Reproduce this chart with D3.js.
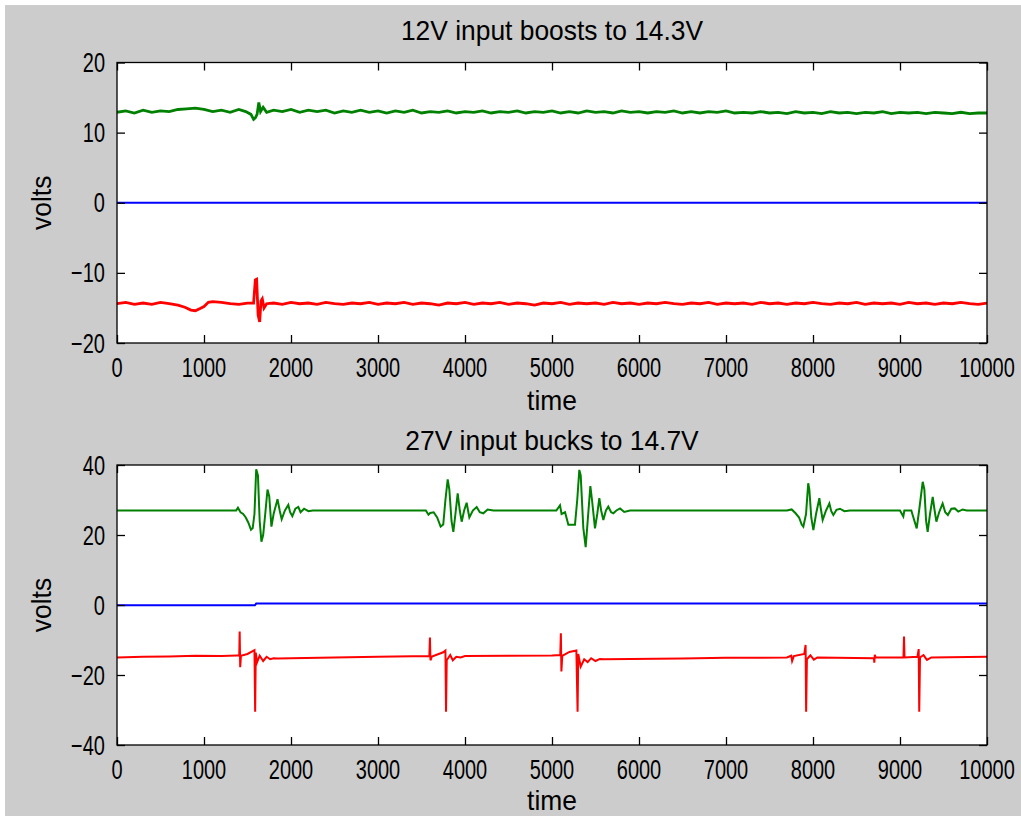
<!DOCTYPE html>
<html>
<head>
<meta charset="utf-8">
<script src="https://cdn.jsdelivr.net/npm/d3@7"></script>
<style>
  html, body { margin: 0; padding: 0; background: #ffffff; }
  svg { display: block; }
  text { font-family: "Liberation Sans", Arial, sans-serif; fill: #000; }
</style>
</head>
<body>
<svg id="chart" width="1021" height="816"></svg>
<script>
// ---------------- DATA ----------------
const xTicks = [0, 1000, 2000, 3000, 4000, 5000, 6000, 7000, 8000, 9000, 10000];
const topYTicks = [-20, -10, 0, 10, 20];
const bottomYTicks = [-40, -20, 0, 20, 40];
const titles = ["12V input boosts to 14.3V", "27V input bucks to 14.7V"];
const xLabel = "time";
const yLabel = "volts";

// Top panel (12V input)
const topGreenT = [0,100,200,300,400,500,600,700,800,900,1000,1100,1200,1300,1400,1480,1540,1570,1590,1610,1630,1650,1680,1720,1800,1900,2000,2100,2200,2300,2400,2500,2600,2700,2800,2900,3000,3100,3200,3300,3400,3500,3600,3700,3800,3900,4000,4100,4200,4300,4400,4500,4600,4700,4800,4900,5000,5100,5200,5300,5400,5500,5600,5700,5800,5900,6000,6100,6200,6300,6400,6500,6600,6700,6800,6900,7000,7100,7200,7300,7400,7500,7600,7700,7800,7900,8000,8100,8200,8300,8400,8500,8600,8700,8800,8900,9000,9100,9200,9300,9400,9500,9600,9700,9800,9900,10000];
const topGreenV = [12.9,13.1,12.8,13.2,12.9,13.1,13.0,13.3,13.4,13.5,13.3,13.0,13.2,12.9,13.3,13.0,12.6,11.9,12.1,12.6,14.3,13.0,13.6,12.9,13.2,13.0,13.3,12.9,13.2,13.0,13.2,12.8,13.1,12.9,13.2,12.9,13.1,12.8,13.1,12.9,13.2,12.8,13.0,12.9,13.1,12.8,13.0,12.9,13.1,12.8,13.0,12.9,13.1,12.8,13.0,12.9,13.1,12.8,13.0,12.8,13.1,12.9,13.0,12.8,13.1,12.9,13.0,12.8,13.0,12.9,13.1,12.8,13.0,12.8,13.0,12.9,13.1,12.8,12.9,12.8,13.0,12.8,12.9,12.7,13.0,12.8,12.9,12.7,13.0,12.8,12.9,12.7,12.9,12.8,13.0,12.7,12.9,12.8,12.9,12.7,12.9,12.8,12.7,12.9,12.7,12.8,12.8];
const topRedT = [0,100,200,300,400,500,600,700,780,850,900,950,1000,1050,1100,1200,1300,1400,1500,1570,1590,1605,1622,1640,1655,1670,1690,1720,1800,1900,2000,2100,2200,2300,2400,2500,2600,2700,2800,2900,3000,3100,3200,3300,3400,3500,3600,3700,3800,3900,4000,4100,4200,4300,4400,4500,4600,4700,4800,4900,5000,5100,5200,5300,5400,5500,5600,5700,5800,5900,6000,6100,6200,6300,6400,6500,6600,6700,6800,6900,7000,7100,7200,7300,7400,7500,7600,7700,7800,7900,8000,8100,8200,8300,8400,8500,8600,8700,8800,8900,9000,9100,9200,9300,9400,9500,9600,9700,9800,9900,10000];
const topRedV = [-14.4,-14.2,-14.5,-14.3,-14.5,-14.2,-14.4,-14.6,-14.9,-15.3,-15.4,-15.1,-14.8,-14.2,-14.1,-14.2,-14.4,-14.5,-14.3,-14.3,-11.0,-10.9,-16.0,-17.0,-14.0,-13.7,-15.0,-14.4,-14.3,-14.5,-14.2,-14.4,-14.3,-14.5,-14.2,-14.4,-14.5,-14.3,-14.4,-14.2,-14.5,-14.3,-14.4,-14.2,-14.5,-14.3,-14.4,-14.6,-14.3,-14.4,-14.2,-14.5,-14.3,-14.4,-14.2,-14.5,-14.3,-14.4,-14.6,-14.3,-14.4,-14.2,-14.5,-14.3,-14.4,-14.3,-14.5,-14.2,-14.4,-14.3,-14.5,-14.3,-14.4,-14.2,-14.4,-14.5,-14.3,-14.4,-14.2,-14.5,-14.3,-14.4,-14.3,-14.5,-14.2,-14.4,-14.3,-14.5,-14.3,-14.4,-14.2,-14.4,-14.5,-14.3,-14.4,-14.2,-14.5,-14.3,-14.4,-14.3,-14.5,-14.2,-14.4,-14.3,-14.5,-14.3,-14.4,-14.2,-14.4,-14.5,-14.3];
const topBlueT = [0, 10000];
const topBlueV = [0, 0];

// Bottom panel (27V input)
const botGreenT = [0,1370,1390,1420,1450,1480,1510,1540,1560,1580,1600,1620,1640,1660,1680,1700,1730,1750,1775,1800,1845,1870,1893,1930,1969,1990,2015,2050,2084,2110,2150,2200,2250,3550,3580,3600,3640,3680,3720,3750,3775,3801,3820,3845,3866,3890,3916,3940,3962,3990,4019,4035,4050,4090,4134,4170,4210,4260,4326,5050,5092,5110,5150,5188,5264,5290,5314,5330,5360,5387,5410,5441,5460,5494,5520,5544,5565,5590,5620,5647,5680,5705,5740,5782,5830,5897,7700,7755,7800,7840,7870,7889,7920,7945,7958,7980,8004,8035,8073,8090,8111,8150,8188,8210,8234,8270,8310,8360,8425,9000,9038,9050,9130,9160,9192,9225,9261,9280,9300,9318,9345,9376,9395,9418,9450,9490,9520,9550,9590,9630,9670,9720,9766,10000];
const botGreenV = [27,27,27.8,26.5,26,25,23.5,21.5,22,26,38.8,37,24,18.1,20,25,33,31,22.4,26,30.2,27,24.5,27,28.6,26.5,25.4,27.5,28,26.5,27.5,26.8,27,27,25.8,26.3,26.5,25,22.4,23,30,35.9,33,24,20.9,26,31.9,27,23.8,27,29.2,27,25.0,27,28,26.5,26.2,27.3,27,27,28.5,26,26.5,22.9,22.9,30,38.6,37,22,16.5,24,34,30,21.9,26,30.5,27,24.3,27,28.1,26.5,26.2,27,27.6,26.6,27,27,27.3,26.2,25,23,22.4,26,34.8,33,25,21.4,26,30.5,27.5,24.3,27,29,26.8,25.7,27.2,27.5,26.8,27,27,25.3,27,27,24.5,21.9,28,35.2,33,24,20.9,26,30.9,27.5,23.8,26.5,29,26.5,25.7,27.5,27.6,26.7,27.3,27,27];
const botRedT = [0,300,600,900,1200,1380,1405,1410,1416,1425,1500,1580,1588,1595,1610,1640,1680,1720,1760,1800,1850,2000,2500,3000,3590,3597,3603,3620,3750,3775,3782,3790,3830,3860,3900,3950,4000,4500,5000,5095,5102,5108,5118,5200,5280,5294,5302,5330,5370,5410,5450,5500,5550,5600,6500,7000,7700,7750,7760,7780,7900,7915,7921,7930,7970,8010,8050,8700,8705,8710,8720,9040,9046,9052,9200,9215,9221,9230,9270,9310,9360,10000];
const botRedV = [-15,-14.8,-14.7,-14.5,-14.6,-14.4,-14.4,-7.6,-17.8,-14.5,-14.0,-12.9,-30.5,-13.6,-16.4,-14.5,-16,-14.8,-15.5,-15.2,-15.3,-15.2,-15.0,-14.8,-14.6,-9.3,-15.8,-14.7,-13.5,-13,-30.5,-15.8,-14.3,-15.8,-14.8,-15,-14.6,-14.5,-14.4,-14.3,-8.1,-19,-14.5,-13.4,-13,-30.5,-14,-17.6,-15.5,-16.3,-15.2,-16,-15.4,-15.5,-15.3,-15.1,-15,-14.5,-16,-14.6,-14,-11.4,-30.5,-15.5,-14.4,-15.6,-15,-15.2,-16.5,-14.2,-15,-15,-9,-15,-14.8,-12.6,-30.5,-15,-14.3,-15.7,-15,-14.8];
const botBlueT = [0, 1585, 1600, 10000];
const botBlueV = [-0.1, -0.1, 0.4, 0.4];

const colors = { green: "#008000", red: "#ff0000", blue: "#0000ff" };

// ---------------- DRAW ----------------
const svg = d3.select("#chart");
svg.append("rect").attr("x", 5).attr("y", 5).attr("width", 1016).attr("height", 811).attr("fill", "#cccccc");

const plotLeft = 117, plotRight = 987;
const panels = [
  { top: 62.5, bottom: 343, yDomain: [-20, 20], yTicks: topYTicks, title: titles[0], titleY: 40, xLabelY: 410,
    series: [[topGreenT, topGreenV, colors.green, 2.8], [topBlueT, topBlueV, colors.blue, 2], [topRedT, topRedV, colors.red, 2.8]] },
  { top: 465, bottom: 745, yDomain: [-40, 40], yTicks: bottomYTicks, title: titles[1], titleY: 450, xLabelY: 810,
    series: [[botGreenT, botGreenV, colors.green, 2], [botBlueT, botBlueV, colors.blue, 2], [botRedT, botRedV, colors.red, 2]] }
];

const fontSize = 20;
const SY = 1.35;     // vertical stretch of the original bitmap font
const SX_DIG = 1.0;  // horizontal scale for numbers
const SX_TXT = 1.32; // horizontal scale for words

function label(parent, x, y, str, anchor, sx, rot) {
  return parent.append("text")
    .attr("transform", `translate(${x},${y})${rot ? ` rotate(${rot})` : ""} scale(${sx},${SY})`)
    .attr("text-anchor", anchor).attr("font-size", fontSize).text(str);
}

panels.forEach(p => {
  const x = d3.scaleLinear().domain([0, 10000]).range([plotLeft, plotRight]);
  const y = d3.scaleLinear().domain(p.yDomain).range([p.bottom, p.top]);
  const g = svg.append("g");
  g.append("rect").attr("x", plotLeft).attr("y", p.top)
    .attr("width", plotRight - plotLeft).attr("height", p.bottom - p.top).attr("fill", "#fff");

  const clipId = "clip" + Math.round(p.top);
  svg.append("clipPath").attr("id", clipId).append("rect")
    .attr("x", plotLeft).attr("y", p.top).attr("width", plotRight - plotLeft).attr("height", p.bottom - p.top);

  p.series.forEach(([ts, vs, col, w]) => {
    const pts = ts.map((t, i) => [t, vs[i]]);
    g.append("path").datum(pts)
      .attr("clip-path", `url(#${clipId})`)
      .attr("fill", "none").attr("stroke", col).attr("stroke-width", w)
      .attr("stroke-linejoin", "miter")
      .attr("d", d3.line().x(d => x(d[0])).y(d => y(d[1])));
  });

  const tickLen = 8;
  const ax = g.append("g").attr("transform", `translate(0,${p.bottom})`)
    .call(d3.axisBottom(x).tickValues(xTicks).tickFormat("").tickSizeInner(-tickLen).tickSizeOuter(0));
  const axT = g.append("g").attr("transform", `translate(0,${p.top})`)
    .call(d3.axisTop(x).tickValues(xTicks).tickFormat("").tickSizeInner(-tickLen).tickSizeOuter(0));
  const ay = g.append("g").attr("transform", `translate(${plotLeft},0)`)
    .call(d3.axisLeft(y).tickValues(p.yTicks).tickFormat("").tickSizeInner(-tickLen).tickSizeOuter(0));
  const ayR = g.append("g").attr("transform", `translate(${plotRight},0)`)
    .call(d3.axisRight(y).tickValues(p.yTicks).tickFormat("").tickSizeInner(-tickLen).tickSizeOuter(0));
  [ax, axT, ay, ayR].forEach(a => {
    a.select(".domain").remove();
    a.selectAll("line").attr("stroke", "#000").attr("stroke-width", 1.3);
  });

  // tick labels (stretched like the original bitmap font)
  xTicks.forEach(t => label(g, x(t), p.bottom + 34, d3.format("d")(t), "middle", SX_DIG));
  p.yTicks.forEach(v => label(g, 105, y(v) + 9.5, d3.format("d")(v), "end", SX_DIG));

  // box
  g.append("rect").attr("x", plotLeft).attr("y", p.top)
    .attr("width", plotRight - plotLeft).attr("height", p.bottom - p.top)
    .attr("fill", "none").attr("stroke", "#000").attr("stroke-width", 1.3);

  label(g, (plotLeft + plotRight) / 2, p.titleY, p.title, "middle", SX_TXT);
  label(g, (plotLeft + plotRight) / 2, p.xLabelY, xLabel, "middle", SX_TXT);
  label(g, 51, (p.top + p.bottom) / 2, yLabel, "middle", SX_TXT, -90);
});
</script>
</body>
</html>
